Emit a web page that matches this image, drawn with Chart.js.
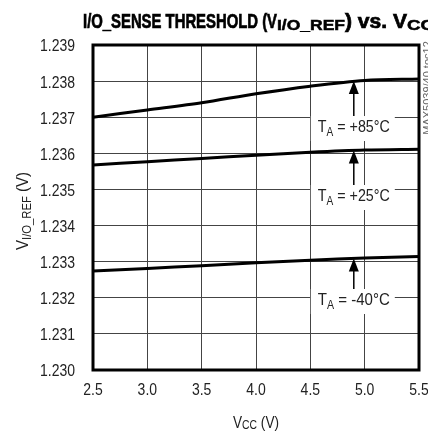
<!DOCTYPE html>
<html>
<head>
<meta charset="utf-8">
<script src="https://cdn.jsdelivr.net/npm/chart.js@4.4.1/dist/chart.umd.min.js"></script>
<style>
  html, body { margin: 0; padding: 0; background: #fff; overflow: hidden; }
  #wrap { width: 428px; height: 432px; position: relative; }
</style>
</head>
<body>
<div id="wrap"><canvas id="chart"></canvas></div>
<script>
// Supply voltage (V) and threshold readings (V) per temperature
var vcc = [2.5, 3.0, 3.5, 4.0, 4.5, 5.0, 5.5];
var vref85 = [1.23700, 1.23720, 1.23740, 1.23765, 1.23786, 1.23802, 1.23806];
var vref25 = [1.23568, 1.23577, 1.23586, 1.23595, 1.23603, 1.23609, 1.23611];
var vrefM40 = [1.23274, 1.23281, 1.23289, 1.23297, 1.23304, 1.23310, 1.23314];

// Tick positions and their labels
var xTicks = [2.5, 3.0, 3.5, 4.0, 4.5, 5.0, 5.5];
var xTickLabels = ["2.5", "3.0", "3.5", "4.0", "4.5", "5.0", "5.5"];
var yTicks = [1.230, 1.231, 1.232, 1.233, 1.234, 1.235, 1.236, 1.237, 1.238, 1.239];
var yTickLabels = ["1.230", "1.231", "1.232", "1.233", "1.234", "1.235", "1.236", "1.237", "1.238", "1.239"];

// Curve labels with arrows
var labelTemps = ["+85°C", "+25°C", "-40°C"];
var labelX = [4.9, 4.9, 4.9];
var labelBase = [1.23659, 1.23468, 1.23180];   // text baseline
var arrowTip = [1.23800, 1.23608, 1.23309];    // where arrow touches curve

var FONT = "'Liberation Sans', Arial, Helvetica, sans-serif";

function toPoints(ys) {
    return vcc.map(function(v, i) { return { x: v, y: ys[i] }; });
}

function fontOf(r) {
    return (r.weight || "normal") + " " + r.size + "px " + FONT;
}

function textW(ctx, r) {
    ctx.font = fontOf(r);
    return ctx.measureText(r.t).width;
}

// total drawn width of runs, each run squeezed by its own sx
function runsWidth(ctx, runs) {
    var w = 0;
    runs.forEach(function(r) { w += textW(ctx, r) * r.sx; });
    return w;
}

// give a run the squeeze that makes it a target width
function fit(ctx, r, target) {
    r.sx = target / textW(ctx, r);
    return r;
}

// squeeze a group of runs together to a target width
function fitGroup(ctx, runs, target) {
    var k = target / runsWidth(ctx, runs);
    runs.forEach(function(r) { r.sx *= k; });
    return runs;
}

// draw runs left to right starting at x (alignment handled here)
function drawRuns(ctx, runs, x, y, align, baseline) {
    var w = runsWidth(ctx, runs);
    var cx = x;
    if (align === "center") cx = x - w / 2;
    if (align === "right") cx = x - w;
    runs.forEach(function(r) {
        ctx.save();
        ctx.font = fontOf(r);
        ctx.textAlign = "left";
        ctx.textBaseline = baseline || "alphabetic";
        ctx.translate(cx, y + (r.dy || 0));
        ctx.scale(r.sx, 1);
        if (r.stroke) {
            ctx.lineWidth = r.stroke;
            ctx.strokeStyle = ctx.fillStyle;
            ctx.strokeText(r.t, 0, 0);
        }
        ctx.fillText(r.t, 0, 0);
        ctx.restore();
        cx += textW(ctx, r) * r.sx;
    });
    return w;
}

var annotatePlugin = {
    id: "annotate",
    afterDatasetsDraw: function(chart) {
        var ctx = chart.ctx;
        var xs = chart.scales.x, ys = chart.scales.y;
        ctx.save();
        for (var i = 0; i < labelTemps.length; i++) {
            var px = xs.getPixelForValue(labelX[i]);
            var base = ys.getPixelForValue(labelBase[i]);
            var tip = ys.getPixelForValue(arrowTip[i]);
            var runs = fitGroup(ctx, [
                { t: "T", size: 17, sx: 1 },
                { t: "A", size: 12, sx: 1, dy: 4 },
                { t: " = " + labelTemps[i], size: 17, sx: 1 }
            ], 72);
            // white box behind the text
            ctx.fillStyle = "#fff";
            ctx.fillRect(px - 43, base - 16, 84, 25);
            ctx.fillStyle = "#222";
            drawRuns(ctx, runs, px, base, "center");
            // arrow
            ctx.strokeStyle = "#000";
            ctx.lineWidth = 1.5;
            ctx.beginPath();
            ctx.moveTo(px, base - 16);
            ctx.lineTo(px, tip + 10);
            ctx.stroke();
            ctx.fillStyle = "#000";
            ctx.beginPath();
            ctx.moveTo(px, tip);
            ctx.lineTo(px - 5, tip + 13);
            ctx.lineTo(px + 5, tip + 13);
            ctx.closePath();
            ctx.fill();
        }
        // heavy frame round the plot
        var a = chart.chartArea;
        ctx.strokeStyle = "#000";
        ctx.lineWidth = 3;
        ctx.strokeRect(a.left, a.top, a.right - a.left, a.bottom - a.top);
        ctx.restore();
    },
    afterDraw: function(chart) {
        var ctx = chart.ctx;
        var a = chart.chartArea;
        var xs = chart.scales.x, ys = chart.scales.y;
        ctx.save();

        // tick labels, condensed
        ctx.fillStyle = "#222";
        var tickSx = fit(ctx, { t: "1.239", size: 16 }, 35).sx;
        yTicks.forEach(function(v, i) {
            drawRuns(ctx, [{ t: yTickLabels[i], size: 16, sx: tickSx }],
                75, ys.getPixelForValue(v) + 2, "right", "middle");
        });
        xTicks.forEach(function(v, i) {
            drawRuns(ctx, [{ t: xTickLabels[i], size: 16, sx: tickSx }],
                xs.getPixelForValue(v), 391, "center", "middle");
        });

        // title, heavy and condensed, running off the right edge
        ctx.fillStyle = "#000";
        var head = fit(ctx, { t: "I/O_SENSE THRESHOLD (V", size: 20, weight: "bold", stroke: 0.7 }, 194);
        var sub1 = fit(ctx, { t: "I/O_REF", size: 14, weight: "bold", stroke: 0.5, dy: 2 }, 68);
        var mid = fit(ctx, { t: ") vs. V", size: 20, weight: "bold", stroke: 0.7 }, 62);
        var sub2 = fit(ctx, { t: "CC", size: 14, weight: "bold", stroke: 0.5, dy: 2 }, 27);
        drawRuns(ctx, [head, sub1, mid, sub2], 83, 28, "left");

        // x axis title
        ctx.fillStyle = "#222";
        var xRuns = fitGroup(ctx, [
            { t: "V", size: 17, sx: 1 },
            { t: "CC", size: 13, sx: 1, dy: 1 },
            { t: " (V)", size: 17, sx: 1 }
        ], 46);
        drawRuns(ctx, xRuns, (a.left + a.right) / 2, 428, "center");

        // y axis title (rotated)
        var yRuns = fitGroup(ctx, [
            { t: "V", size: 16, sx: 1 },
            { t: "I/O_REF", size: 12, sx: 1, dy: 3 },
            { t: " (V)", size: 16, sx: 1 }
        ], 78);
        ctx.save();
        ctx.translate(28, 211);
        ctx.rotate(-Math.PI / 2);
        drawRuns(ctx, yRuns, 0, 0, "center");
        ctx.restore();

        // figure id at the right edge
        ctx.save();
        ctx.fillStyle = "#666";
        ctx.font = "11px " + FONT;
        ctx.translate(431, 88);
        ctx.rotate(-Math.PI / 2);
        ctx.textAlign = "center";
        ctx.fillText("MAX5039/40 toc12", 0, 0);
        ctx.restore();

        ctx.restore();
    }
};

var lineStyle = {
    borderColor: "#000",
    borderWidth: 3,
    pointRadius: 0,
    tension: 0.3,
    fill: false
};

var ctx = document.getElementById("chart").getContext("2d");

var chart = new Chart(ctx, {
    type: "line",
    data: {
        datasets: [
            Object.assign({ label: "+85°C", data: toPoints(vref85) }, lineStyle),
            Object.assign({ label: "+25°C", data: toPoints(vref25) }, lineStyle),
            Object.assign({ label: "-40°C", data: toPoints(vrefM40) }, lineStyle)
        ]
    },
    options: {
        responsive: true,
        maintainAspectRatio: false,
        animation: false,
        layout: { padding: { top: 45, right: 9, left: 0, bottom: 0 } },
        plugins: {
            legend: { display: false },
            tooltip: { enabled: false },
            title: { display: false }
        },
        scales: {
            x: {
                type: "linear",
                min: 2.5,
                max: 5.5,
                afterBuildTicks: function(scale) {
                    scale.ticks = xTicks.map(function(v) { return { value: v }; });
                },
                afterFit: function(scale) { scale.height = 62; },
                grid: { color: "#444", lineWidth: 1, drawTicks: false },
                border: { display: false },
                ticks: { display: false }
            },
            y: {
                type: "linear",
                min: 1.230,
                max: 1.239,
                afterBuildTicks: function(scale) {
                    scale.ticks = yTicks.map(function(v) { return { value: v }; });
                },
                afterFit: function(scale) { scale.width = 93; },
                grid: { color: "#444", lineWidth: 1, drawTicks: false },
                border: { display: false },
                ticks: { display: false }
            }
        }
    },
    plugins: [annotatePlugin]
});
</script>
</body>
</html>
